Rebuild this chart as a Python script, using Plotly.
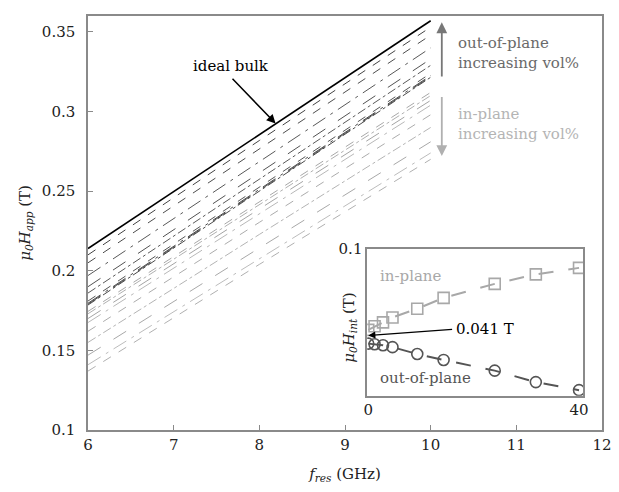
import plotly.graph_objects as go

# ---------------- data ----------------
freq = [6, 8, 10]                      # GHz, sample points of each curve
ideal_bulk = [0.214, 0.2857, 0.357]    # T

vol_pct = [0, 1.2, 2.8, 4.6, 9.3, 14.3, 24, 31.8, 40]

# out-of-plane curves (one per vol%), H_app at f = 6, 8, 10 GHz
oop_curves = [
    [0.1785, 0.2502, 0.3215],
    [0.1790, 0.2506, 0.3220],
    [0.1796, 0.2513, 0.3226],
    [0.1810, 0.2525, 0.3240],
    [0.1860, 0.2573, 0.3290],
    [0.1900, 0.2613, 0.3330],
    [0.1970, 0.2685, 0.3400],
    [0.2050, 0.2765, 0.3480],
    [0.2100, 0.2818, 0.3530],
]
# in-plane curves (one per vol%), H_app at f = 6, 8, 10 GHz
ip_curves = [
    [0.1745, 0.2433, 0.3120],
    [0.1730, 0.2415, 0.3100],
    [0.1700, 0.2388, 0.3070],
    [0.1675, 0.2360, 0.3040],
    [0.1620, 0.2304, 0.2980],
    [0.1550, 0.2228, 0.2900],
    [0.1470, 0.2143, 0.2810],
    [0.1410, 0.2077, 0.2740],
    [0.1370, 0.2040, 0.2700],
]

# inset: internal field vs vol%
hint_inplane = [0.0449, 0.0473, 0.0500, 0.0533, 0.0593, 0.0667, 0.0762, 0.0827, 0.0871]
hint_outplane = [0.0355, 0.0351, 0.0344, 0.0331, 0.0284, 0.0244, 0.0171, 0.0093, 0.0038]

x_ticks = [6, 7, 8, 9, 10, 11, 12]
y_ticks = [0.1, 0.15, 0.2, 0.25, 0.3, 0.35]
y_ticktext = ["0.1", "0.15", "0.2", "0.25", "0.3", "0.35"]

# ---------------- styles ----------------
FONT = "DejaVu Serif"
FS = 15
dashes = ["dash", "dashdot", "longdash", "longdashdot", "dash", "dashdot", "longdash", "longdashdot", "dash"]
oop_colors = ["#4a4a4a", "#505050", "#484848", "#555555", "#5a5a5a", "#525252", "#585858", "#4e4e4e", "#444444"]
ip_colors = ["#a8a8a8", "#b0b0b0", "#a4a4a4", "#b8b8b8", "#acacac", "#b4b4b4", "#a8a8a8", "#bcbcbc", "#b0b0b0"]

fig = go.Figure()

for i, c in enumerate(ip_curves):
    fig.add_trace(go.Scatter(x=freq, y=c, mode="lines", showlegend=False,
                             line=dict(color=ip_colors[i], width=1, dash=dashes[i])))
for i, c in enumerate(oop_curves):
    fig.add_trace(go.Scatter(x=freq, y=c, mode="lines", showlegend=False,
                             line=dict(color=oop_colors[i], width=1, dash=dashes[(i + 1) % 9])))
fig.add_trace(go.Scatter(x=freq, y=ideal_bulk, mode="lines", showlegend=False,
                         line=dict(color="black", width=1.6)))

# inset traces
fig.add_trace(go.Scatter(x=vol_pct, y=hint_inplane, mode="lines+markers", showlegend=False,
                         xaxis="x2", yaxis="y2",
                         line=dict(color="#a8a8a8", width=2, dash="longdash"),
                         marker=dict(symbol="square-open", size=11, color="#a8a8a8",
                                     line=dict(width=1.6, color="#a8a8a8"))))
fig.add_trace(go.Scatter(x=vol_pct, y=hint_outplane, mode="lines+markers", showlegend=False,
                         xaxis="x2", yaxis="y2",
                         line=dict(color="#555555", width=2, dash="longdash"),
                         marker=dict(symbol="circle-open", size=11, color="#555555",
                                     line=dict(width=1.6, color="#555555"))))

axis_common = dict(showline=True, linecolor="#8a8a8a", linewidth=1.5, mirror=True,
                   showgrid=False, zeroline=False,
                   tickfont=dict(family=FONT, size=FS, color="#222222"))

inset_x0 = (371 - 88) / 521
inset_x1 = (590 - 88) / 521
inset_y0 = (430 - 395) / 423
inset_y1 = (430 - 245) / 423

fig.update_layout(
    width=619, height=492,
    margin=dict(l=88, r=10, t=7, b=62),
    plot_bgcolor="white", paper_bgcolor="white",
    font=dict(family=FONT, size=FS, color="#222222"),
    xaxis=dict(**axis_common, range=[6, 12], tickvals=x_ticks,
               ticks="inside", ticklen=5, tickcolor="#8a8a8a",
               title=dict(text="<i>f</i><sub><i>res</i></sub> (GHz)", standoff=16,
                          font=dict(family=FONT, size=FS, color="#222222"))),
    yaxis=dict(**axis_common, range=[0.1, 0.36], tickvals=y_ticks, ticktext=y_ticktext,
               ticks="inside", ticklen=5, tickcolor="#8a8a8a", ticklabelstandoff=8,
               title=dict(text="<i>μ</i><sub><i>0</i></sub><i>H</i><sub><i>app</i></sub> (T)",
                          standoff=8, font=dict(family=FONT, size=FS, color="#222222"))),
    xaxis2=dict(**axis_common, domain=[inset_x0, inset_x1], anchor="y2",
                range=[-0.2, 40.8], tickvals=[0, 40], ticktext=["0", "40"], ticks=""),
    yaxis2=dict(**axis_common, domain=[inset_y0, inset_y1], anchor="x2",
                range=[0, 0.1], tickvals=[0.1], ticktext=["0.1"], ticks=""),
    shapes=[dict(type="rect", xref="paper", yref="paper", x0=inset_x0, x1=inset_x1,
                 y0=inset_y0, y1=inset_y1, fillcolor="white", line=dict(width=0), layer="below")],
)

ann = []
# ideal bulk
ann.append(dict(x=7.67, y=0.3285, xref="x", yref="y", text="ideal bulk", showarrow=False,
                xanchor="center", yanchor="middle",
                font=dict(family=FONT, size=FS, color="black")))
ann.append(dict(x=8.19, y=0.2925, xref="x", yref="y", ax=7.67, ay=0.3215, axref="x", ayref="y",
                text="", showarrow=True, arrowhead=2, arrowsize=1.2, arrowwidth=1.5, arrowcolor="black"))
# vertical arrows
ann.append(dict(x=10.13, y=0.356, xref="x", yref="y", ax=10.13, ay=0.321, axref="x", ayref="y",
                text="", showarrow=True, arrowhead=2, arrowsize=1.2, arrowwidth=1.8, arrowcolor="#777777"))
ann.append(dict(x=10.13, y=0.272, xref="x", yref="y", ax=10.13, ay=0.31, axref="x", ayref="y",
                text="", showarrow=True, arrowhead=2, arrowsize=1.2, arrowwidth=1.8, arrowcolor="#b0b0b0"))
ann.append(dict(x=10.30, y=0.3365, xref="x", yref="y", xanchor="left", yanchor="middle", align="left",
                text="out-of-plane<br>increasing vol%", showarrow=False,
                font=dict(family=FONT, size=FS, color="#6a6a6a")))
ann.append(dict(x=10.30, y=0.292, xref="x", yref="y", xanchor="left", yanchor="middle", align="left",
                text="in-plane<br>increasing vol%", showarrow=False,
                font=dict(family=FONT, size=FS, color="#b4b4b4")))
# inset annotations
ann.append(dict(x=1.9, y=0.0813, xref="x2", yref="y2", xanchor="left", yanchor="middle", text="in-plane",
                showarrow=False, font=dict(family=FONT, size=FS, color="#a8a8a8")))
ann.append(dict(x=1.9, y=0.012, xref="x2", yref="y2", xanchor="left", yanchor="middle", text="out-of-plane",
                showarrow=False, font=dict(family=FONT, size=FS, color="#555555")))
ann.append(dict(x=16.3, y=0.0453, xref="x2", yref="y2", xanchor="left", yanchor="middle", text="0.041 T",
                showarrow=False, font=dict(family=FONT, size=FS, color="black")))
ann.append(dict(x=0, y=0.041, xref="x2", yref="y2", ax=16.2, ay=0.0453, axref="x2", ayref="y2",
                text="", showarrow=True, arrowhead=2, arrowsize=1.1, arrowwidth=1.3, arrowcolor="black"))
ann.append(dict(x=20, y=-0.014, xref="x2", yref="y2", xanchor="center", yanchor="middle", text="vol%",
                showarrow=False, font=dict(family=FONT, size=FS, color="#222222")))
ann.append(dict(x=(353 - 88) / 521, y=(430 - 325) / 423, xref="paper", yref="paper",
                xanchor="center", yanchor="middle",
                text="<i>μ</i><sub><i>0</i></sub><i>H</i><sub><i>int</i></sub> (T)", textangle=-90,
                showarrow=False, font=dict(family=FONT, size=FS, color="#222222")))
fig.update_layout(annotations=ann)

fig.write_html("out.html")
